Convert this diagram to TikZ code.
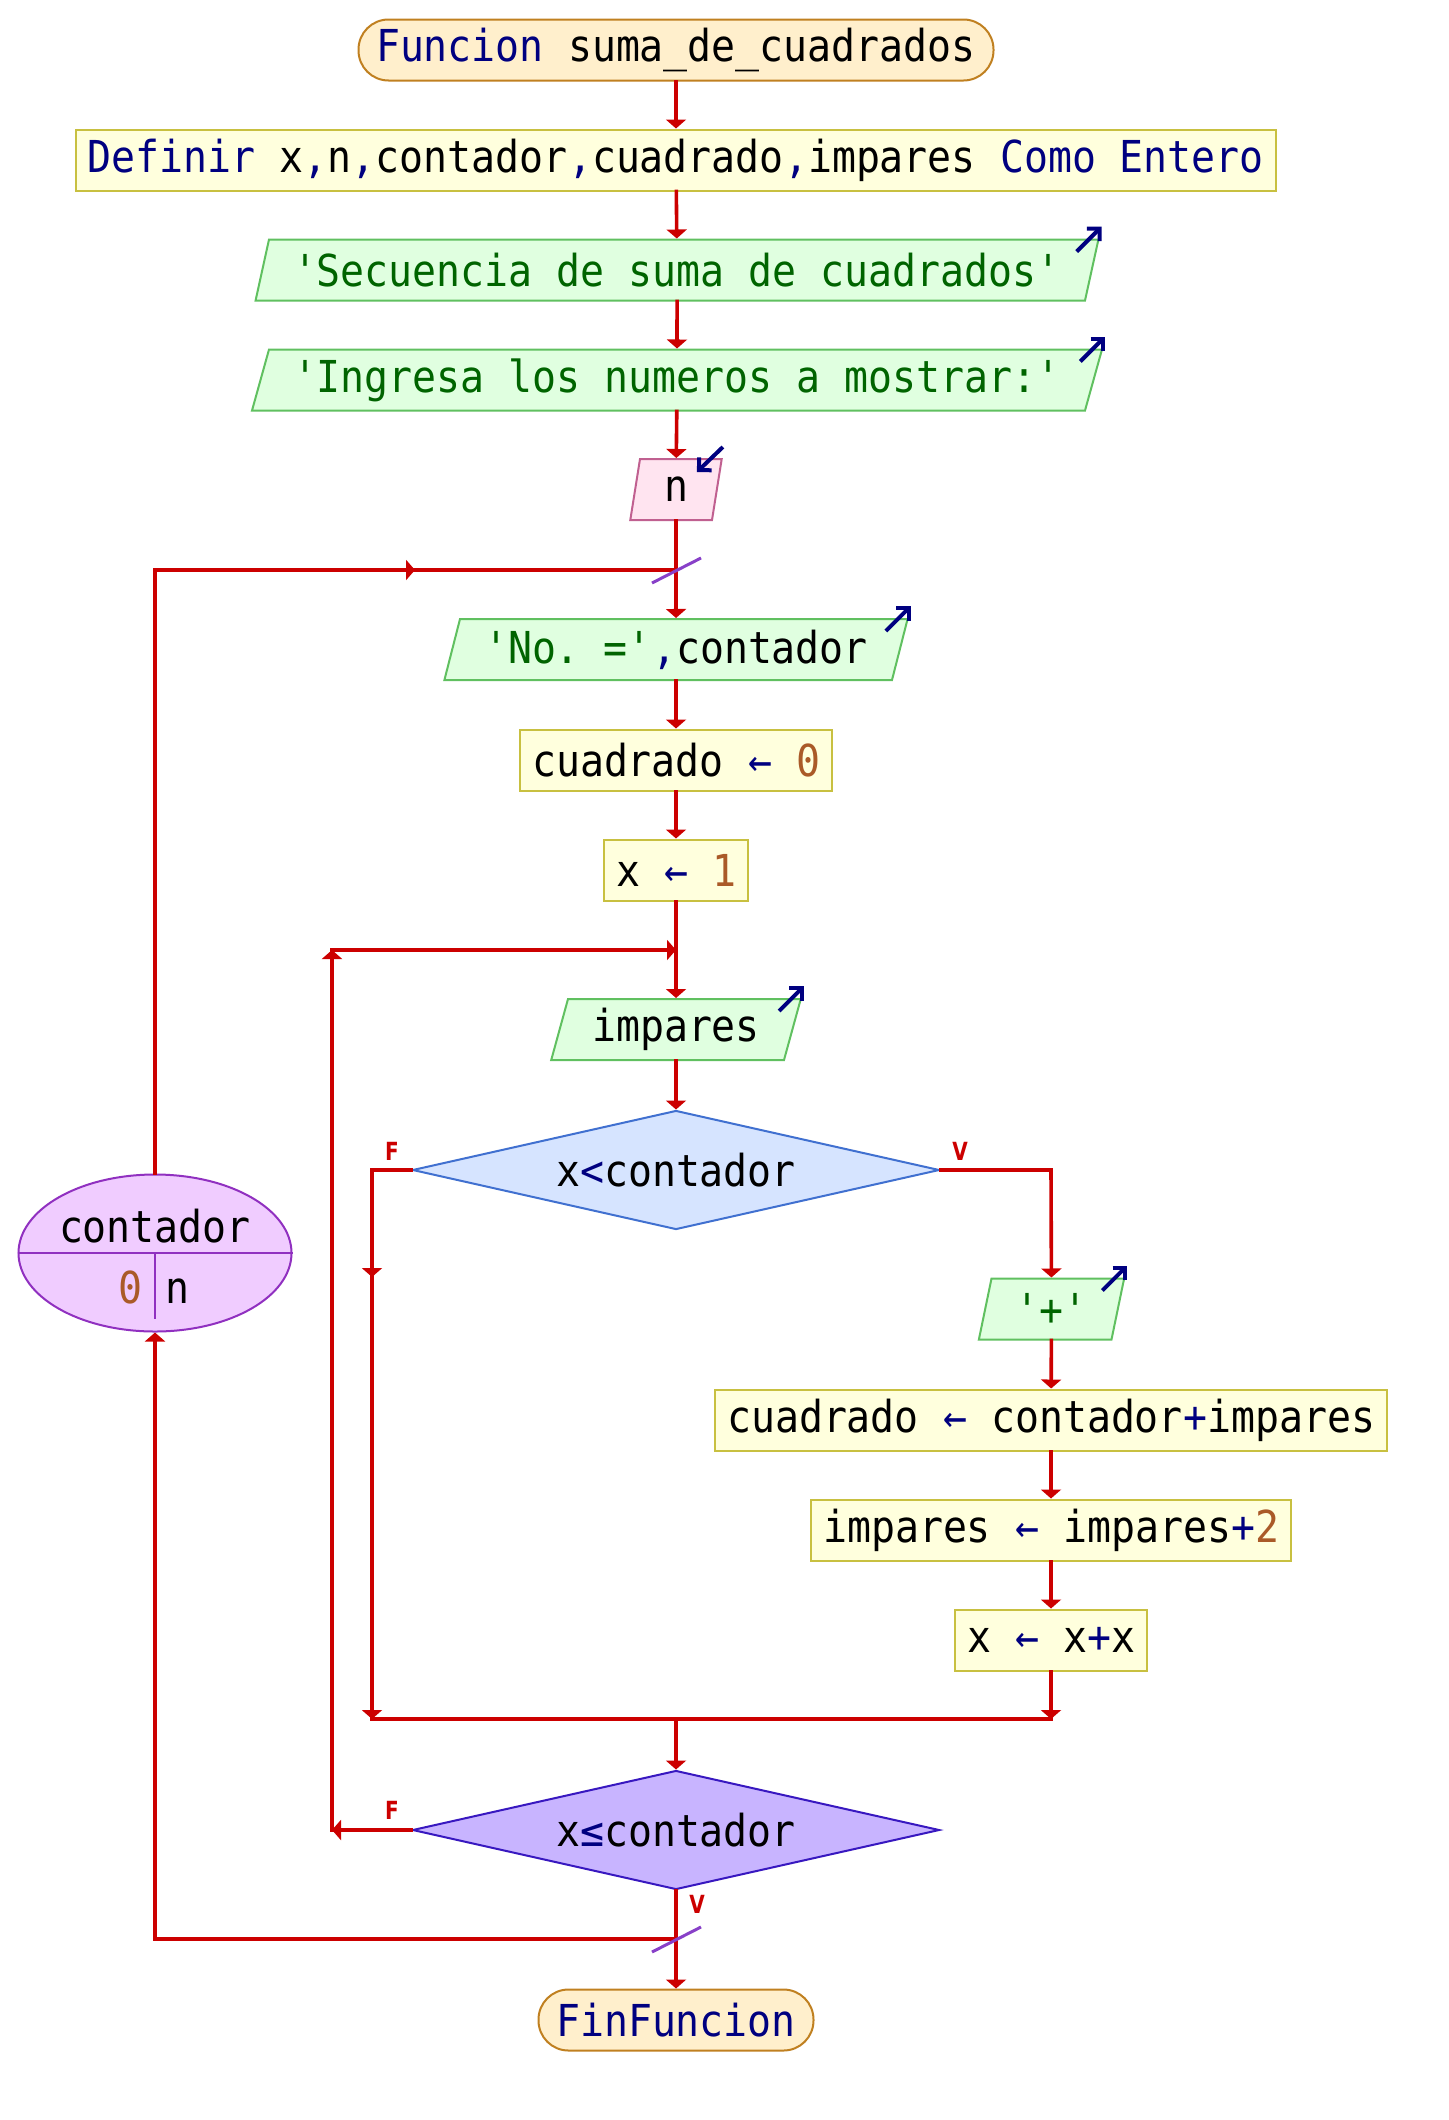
\documentclass[tikz,border=0pt]{standalone}
\usepackage{fontspec}
\usepackage{tikz}
\usetikzlibrary{shapes.geometric}
\usetikzlibrary{arrows.meta}
\usetikzlibrary{calc}

\setmonofont[FakeStretch=0.906]{DejaVu Sans Mono}
\newfontfamily\lblfont[FakeStretch=0.8]{DejaVu Sans}

\definecolor{flujo}{RGB}{204,0,0}
\definecolor{kwazul}{RGB}{0,0,128}
\definecolor{cadverde}{RGB}{0,100,0}
\definecolor{nrocafe}{RGB}{170,90,40}
\definecolor{barra}{RGB}{136,64,200}

\newcommand{\kw}[1]{\textcolor{kwazul}{#1}}
\newcommand{\cad}[1]{\textcolor{cadverde}{#1}}
\newcommand{\nro}[1]{\textcolor{nrocafe}{#1}}

\begin{document}
\begin{tikzpicture}[x=0.5pt,y=-0.5pt]
  \tikzstyle{texto}=[font=\ttfamily\fontsize{22pt}{26pt}\selectfont]
  \tikzstyle{terminal}=[texto,draw={rgb,255:red,192;green,128;blue,32},fill={rgb,255:red,255;green,239;blue,204},line width=1pt,rounded corners=15pt,minimum height=30.5pt,inner xsep=8.75pt,inner ysep=0pt]
  \tikzstyle{proceso}=[texto,rectangle,draw={rgb,255:red,200;green,192;blue,64},fill={rgb,255:red,255;green,255;blue,221},line width=1pt,minimum height=30.5pt,inner xsep=6pt,inner ysep=0pt]
  \tikzstyle{salida}=[texto,trapezium,trapezium left angle=68.5,trapezium right angle=111.5,trapezium stretches=true,draw={rgb,255:red,96;green,192;blue,96},fill={rgb,255:red,224;green,255;blue,224},line width=1pt,minimum height=30.5pt,inner xsep=12pt,inner ysep=0pt]
  \tikzstyle{entrada}=[salida,draw={rgb,255:red,192;green,96;blue,144},fill={rgb,255:red,255;green,228;blue,240}]
  \tikzstyle{decision}=[texto,diamond,shape aspect=4.43,line width=1pt,minimum width=263.5pt,minimum height=59.5pt,inner sep=0pt]
  \tikzstyle{contador}=[ellipse,draw={rgb,255:red,144;green,48;blue,192},fill={rgb,255:red,240;green,204;blue,255},line width=1pt,minimum width=136.5pt,minimum height=78.5pt,inner sep=0pt]
  \tikzstyle{linea}=[draw=flujo,line width=1.8pt,line cap=rect]
  \tikzstyle{flecha}=[linea,-{Triangle[length=4.5pt,width=10pt]}]
  \tikzstyle{barrita}=[draw=barra,line width=1.5pt]
  \tikzstyle{icono}=[draw=kwazul,line width=2pt,-{Straight Barb[length=4.5pt,width=9pt]}]
  \tikzstyle{etiq}=[text=flujo,font=\lblfont\bfseries\fontsize{12.5pt}{14pt}\selectfont,inner sep=0pt]

  \useasboundingbox (0,0) rectangle (1448,2120);

  \node[terminal] (inicio) at (676,50) {\kw{Funcion} suma\_de\_cuadrados};
  \node[proceso] (definir) at (676,160) {\kw{Definir} x\kw{,}n\kw{,}contador\kw{,}cuadrado\kw{,}impares \kw{Como Entero}};
  \draw[flecha] (inicio) -- (definir);

  \node[salida] (secuencia) at (677,270) {\cad{'Secuencia de suma de cuadrados'}};
  \draw[flecha] (definir) -- (secuencia);
  \draw[icono] (secuencia.top right corner) ++(-23,13) -- ++(25,-25);

  \node[salida] (ingresa) at (677,380) {\cad{'Ingresa los numeros a mostrar:'}};
  \draw[flecha] (secuencia) -- (ingresa);
  \draw[icono] (ingresa.top right corner) ++(-23,13) -- ++(25,-25);

  \node[entrada] (leer) at (676,489.5) {n};
  \draw[flecha] (ingresa) -- (leer);
  \draw[icono] (leer.top right corner) ++(0,-11) -- ++(-26,25);

  % ciclo externo
  \coordinate (j1) at (676,570);
  \draw[linea] (leer) -- (j1);
  \node[salida] (numero) at (676,649.5) {\cad{'No. ='}\kw{,}contador};
  \draw[flecha] (j1) -- (numero);
  \draw[icono] (numero.top right corner) ++(-23,13) -- ++(25,-25);

  \node[proceso] (cuad0) at (676,760) {cuadrado \kw{←} \nro{0}};
  \draw[flecha] (numero) -- (cuad0);
  \node[proceso] (x1) at (676,870) {x \kw{←} \nro{1}};
  \draw[flecha] (cuad0) -- (x1);

  % ciclo interno
  \coordinate (j2) at (676,950);
  \draw[linea] (x1) -- (j2);
  \node[salida] (impares) at (676,1029.5) {impares};
  \draw[flecha] (j2) -- (impares);
  \draw[icono] (impares.top right corner) ++(-23,13) -- ++(25,-25);

  \node[decision,draw={rgb,255:red,64;green,112;blue,208},fill={rgb,255:red,214;green,228;blue,255}] (menor) at (676,1170) {x\kw{<}contador};
  \draw[flecha] (impares) -- (menor);
  \node[etiq] (fmenor) at (392,1151) {F};
  \node[etiq] (vmenor) at (960,1151) {V};

  \coordinate (fa) at (372,1170);
  \coordinate (fb) at (372,1277);
  \coordinate (fc) at (372,1719);
  \draw[linea] (menor.west) -- (fa);
  \draw[flecha] (fa) -- (fb);
  \draw[flecha] (fb) -- (fc);

  \coordinate (va) at (1051,1170);
  \draw[linea] (menor.east) -- (va);
  \node[salida] (mas) at (1051.5,1309) {\cad{'+'}};
  \draw[flecha] (va) -- (mas);
  \draw[icono] (mas.top right corner) ++(-23,13) -- ++(25,-25);

  \node[proceso] (cuadsum) at (1051,1420) {cuadrado \kw{←} contador\kw{+}impares};
  \draw[flecha] (mas) -- (cuadsum);
  \node[proceso] (impsum) at (1051,1530) {impares \kw{←} impares\kw{+}\nro{2}};
  \draw[flecha] (cuadsum) -- (impsum);
  \node[proceso] (xsum) at (1051,1640) {x \kw{←} x\kw{+}x};
  \draw[flecha] (impsum) -- (xsum);

  \coordinate (vb) at (1051,1719);
  \coordinate (j3) at (676,1719);
  \draw[flecha] (xsum) -- (vb);
  \draw[linea] (fc) -- (vb);

  \node[decision,draw={rgb,255:red,56;green,24;blue,192},fill={rgb,255:red,200;green,180;blue,255}] (menorig) at (676,1830) {x\kw{≤}contador};
  \draw[flecha] (j3) -- (menorig);
  \node[etiq] (fmenorig) at (392,1810) {F};
  \node[etiq] (vmenorig) at (697,1904) {V};

  \coordinate (ra) at (332,1830);
  \coordinate (rb) at (332,950);
  \draw[flecha] (menorig.west) -- (ra);
  \draw[flecha] (ra) -- (rb);
  \draw[flecha] (rb) -- (j2);

  % fin del ciclo externo
  \coordinate (j4) at (676,1939);
  \node[terminal] (fin) at (676,2020) {\kw{FinFuncion}};
  \draw[linea] (menorig) -- (j4);
  \draw[flecha] (j4) -- (fin);

  \node[contador] (var) at (155,1253) {};
  \draw[draw={rgb,255:red,144;green,48;blue,192},line width=1pt] (var.west) -- (var.east);
  \draw[draw={rgb,255:red,144;green,48;blue,192},line width=1pt] (var.center) -- ++(0,66);
  \node[texto,anchor=base] (varnom) at (155,1242) {contador};
  \node[texto,anchor=base] (varini) at (130,1303) {\nro{0}};
  \node[texto,anchor=base] (varfin) at (177,1303) {n};

  \coordinate (la) at (155,1939);
  \coordinate (lb) at (155,570);
  \coordinate (lm) at (415,570);
  \draw[linea] (j4) -- (la);
  \draw[flecha] (la) -- (var);
  \draw[linea] (var) -- (lb);
  \draw[flecha] (lb) -- (lm);
  \draw[linea] (lm) -- (j1);
  \draw[barrita] (j1) ++(-24,13) -- ++(49,-25);
  \draw[barrita] (j4) ++(-24,13) -- ++(49,-25);
\end{tikzpicture}
\end{document}
